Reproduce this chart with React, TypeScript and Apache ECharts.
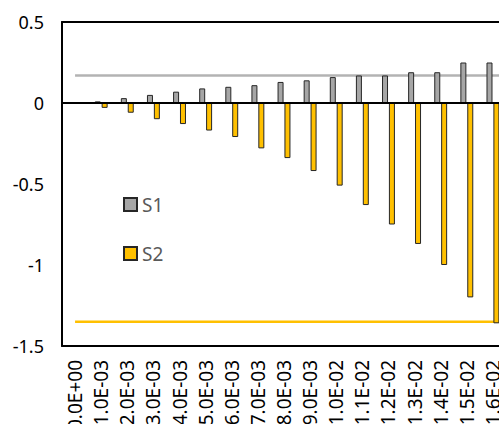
import React, { useEffect, useRef } from "react";
import * as echarts from "echarts";

const CATEGORIES = [
  "0.0E+00", "1.0E-03", "2.0E-03", "3.0E-03", "4.0E-03", "5.0E-03", "6.0E-03",
  "7.0E-03", "8.0E-03", "9.0E-03", "1.0E-02", "1.1E-02", "1.2E-02", "1.3E-02",
  "1.4E-02", "1.5E-02", "1.6E-02",
];
const S1 = [0, 0.01, 0.03, 0.05, 0.07, 0.09, 0.1, 0.11, 0.13, 0.14, 0.16, 0.17, 0.17, 0.19, 0.19, 0.25, 0.25];
const S2 = [0, -0.03, -0.06, -0.1, -0.13, -0.17, -0.21, -0.28, -0.34, -0.42, -0.51, -0.63, -0.75, -0.87, -1.0, -1.2, -1.36];
const S1_LEVEL = 0.17;
const S2_LEVEL = -1.35;
const Y_MIN = -1.5;
const Y_MAX = 0.5;
const Y_STEP = 0.5;

const FONT = "'Noto Sans', 'DejaVu Sans', sans-serif";

export default function App() {
  const ref = useRef<HTMLDivElement>(null);
  useEffect(() => {
    if (!ref.current) return;
    const chart = echarts.init(ref.current, null, { renderer: "svg" });
    const n = CATEGORIES.length;
    const levelX = [0, n - 0.5];
    chart.setOption({
      animation: false,
      backgroundColor: "#ffffff",
      textStyle: { fontFamily: FONT },
      grid: {
        left: 62,
        top: 22,
        right: 24,
        bottom: 78,
        containLabel: false,
        outerBoundsMode: "none",
      },
      legend: {
        orient: "vertical",
        left: 118,
        top: 190,
        itemWidth: 13,
        itemHeight: 13,
        itemGap: 30,
        icon: "rect",
        data: ["S1", "S2"],
        textStyle: { fontSize: 19, color: "#595959", fontFamily: FONT },
      },
      xAxis: [
        {
          type: "category",
          data: CATEGORIES,
          position: "bottom",
          axisLine: { show: true, onZero: false, lineStyle: { color: "#000000", width: 2 } },
          axisTick: { show: false },
          axisLabel: {
            rotate: 90,
            interval: 0,
            margin: 14,
            fontSize: 19,
            color: "#000000",
            fontFamily: FONT,
          },
          splitLine: { show: false },
        },
        {
          type: "category",
          data: CATEGORIES,
          position: "top",
          axisLine: { show: true, onZero: false, lineStyle: { color: "#000000", width: 2 } },
          axisTick: { show: false },
          axisLabel: { show: false },
          splitLine: { show: false },
        },
        {
          type: "value",
          min: -0.5,
          max: n - 0.5,
          show: false,
        },
      ],
      yAxis: {
        type: "value",
        min: Y_MIN,
        max: Y_MAX,
        interval: Y_STEP,
        axisLine: { show: true, onZero: false, lineStyle: { color: "#000000", width: 2 } },
        axisTick: { show: false },
        splitLine: { show: false },
        axisLabel: {
          margin: 18,
          fontSize: 18,
          color: "#000000",
          fontFamily: FONT,
        },
      },
      series: [
        {
          name: "S1 level",
          type: "line",
          xAxisIndex: 2,
          data: levelX.map((x) => [x, S1_LEVEL]),
          symbol: "none",
          silent: true,
          lineStyle: { color: "#b3b3b3", width: 2.5 },
          z: 1,
        },
        {
          name: "S2 level",
          type: "line",
          xAxisIndex: 2,
          data: levelX.map((x) => [x, S2_LEVEL]),
          symbol: "none",
          silent: true,
          lineStyle: { color: "#ffc000", width: 2.5 },
          z: 1,
        },
        {
          name: "S1",
          type: "bar",
          data: S1,
          barWidth: 6,
          barGap: "15%",
          itemStyle: { color: "#a6a6a6", borderColor: "#262626", borderWidth: 1 },
          z: 2,
        },
        {
          name: "S2",
          type: "bar",
          data: S2,
          barWidth: 6,
          barGap: "15%",
          itemStyle: { color: "#ffc000", borderColor: "#262626", borderWidth: 1 },
          z: 2,
          markLine: {
            silent: true,
            symbol: "none",
            label: { show: false },
            lineStyle: { color: "#000000", width: 2, type: "solid" },
            data: [{ yAxis: 0 }],
          },
        },
      ],
    });
    return () => chart.dispose();
  }, []);
  return (
    <div
      style={{ position: "absolute", left: 0, top: 0, width: 499, height: 424, overflow: "hidden" }}
    >
      <div ref={ref} style={{ width: 530, height: 424 }} />
    </div>
  );
}
